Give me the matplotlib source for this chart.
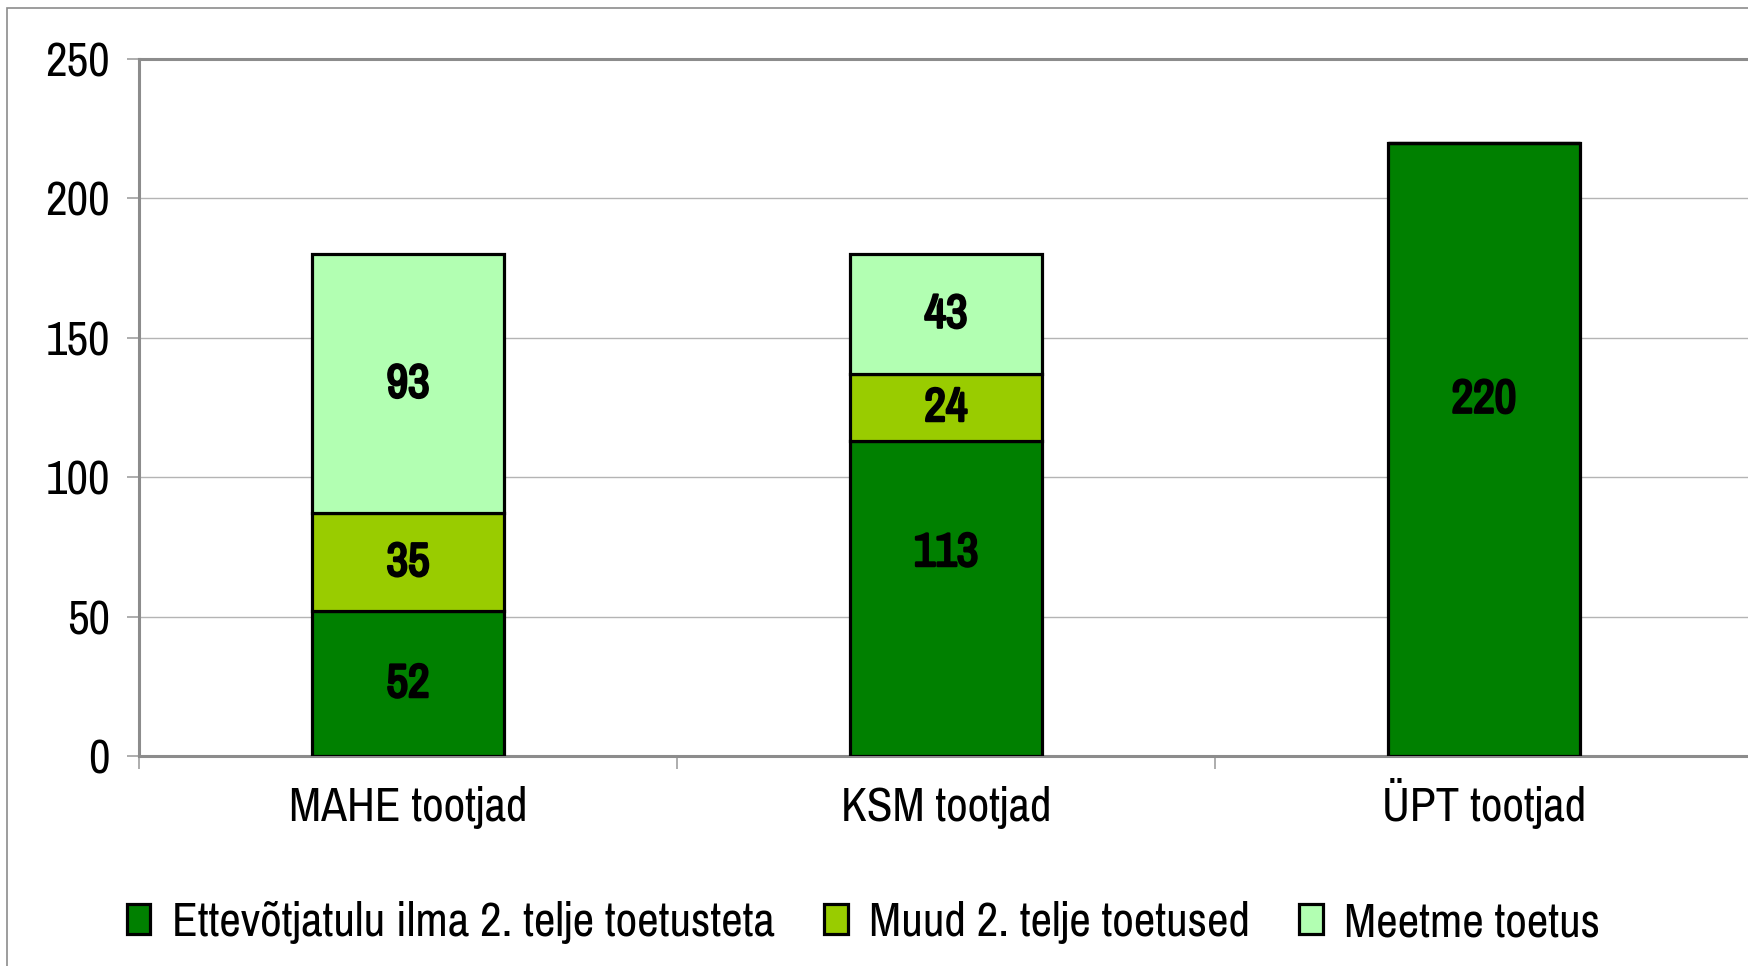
import matplotlib
matplotlib.use("Agg")
import matplotlib.pyplot as plt
import matplotlib.patheffects as pe
from matplotlib.patches import Rectangle
import numpy as np

plt.rcParams['font.family'] = ['Archivo Narrow', 'Liberation Sans', 'DejaVu Sans']

categories = ["MAHE tootjad", "KSM tootjad", "ÜPT tootjad"]
series_names = ["Ettevõtjatulu ilma 2. telje toetusteta", "Muud 2. telje toetused", "Meetme toetus"]
ettevotjatulu = [52, 113, 220]
muud_toetused = [35, 24, 0]
meetme_toetus = [93, 43, 0]
# label heights as placed in the source chart (not always at segment centre)
label_override = {(0, 1): 73, (0, 2): 128}

colors = ["#008000", "#99CC00", "#B2FFB2"]

fig = plt.figure(figsize=(17.48, 9.66), dpi=100)
fig.patches.append(Rectangle((7 / 1748, -0.1), 1.2, 0.1 + (966 - 8) / 966,
                             transform=fig.transFigure, fill=False,
                             edgecolor="#8c8c8c", linewidth=1.2))

ax = fig.add_axes([139 / 1748, 210 / 966, 1614 / 1748, 697 / 966])

x = np.arange(len(categories))
width = 0.357
bottom = np.zeros(len(categories))
bold = [pe.withStroke(linewidth=1.8, foreground="black")]
for i, (vals, col) in enumerate(zip([ettevotjatulu, muud_toetused, meetme_toetus], colors)):
    vals = np.array(vals, dtype=float)
    ax.bar(x, vals, width, bottom=bottom, color=col, edgecolor="black",
           linewidth=2.3, label=series_names[i], zorder=3)
    for j, v in enumerate(vals):
        if v > 0:
            yy = label_override.get((i, j), bottom[j] + v / 2)
            ax.text(x[j], yy, f"{int(v)}", ha="center", va="center",
                    fontsize=34, color="black", zorder=4, path_effects=bold)
    bottom += vals

ax.set_xlim(-0.5, 2.5)
ax.set_ylim(0, 250)
ax.set_yticks([0, 50, 100, 150, 200, 250])
ax.yaxis.grid(True, color="#b4b4b4", linewidth=1.0, zorder=0)
ax.set_axisbelow(True)

ax.set_xticks(x)
ax.set_xticklabels(categories)
ax.set_xticks([-0.5, 0.5, 1.5], minor=True)
ax.tick_params(axis="x", which="major", length=0, pad=47, labelsize=34)
for lbl in ax.get_xticklabels():
    lbl.set_verticalalignment("baseline")
ax.tick_params(axis="x", which="minor", length=9, width=1.2, color="#a0a0a0")
ax.tick_params(axis="y", length=9, width=1.2, color="#a0a0a0", pad=12, labelsize=34)

for side in ["left", "bottom", "top"]:
    ax.spines[side].set_color("#8c8c8c")
    ax.spines[side].set_linewidth(2.2)
ax.spines["right"].set_visible(False)

fig.legend(loc="center", bbox_to_anchor=(0.494, 0.045), ncol=3, frameon=False,
           fontsize=34, handlelength=0.5, handleheight=0.6, handletextpad=0.45,
           columnspacing=1.05)

fig.savefig("out.png", dpi=100)
